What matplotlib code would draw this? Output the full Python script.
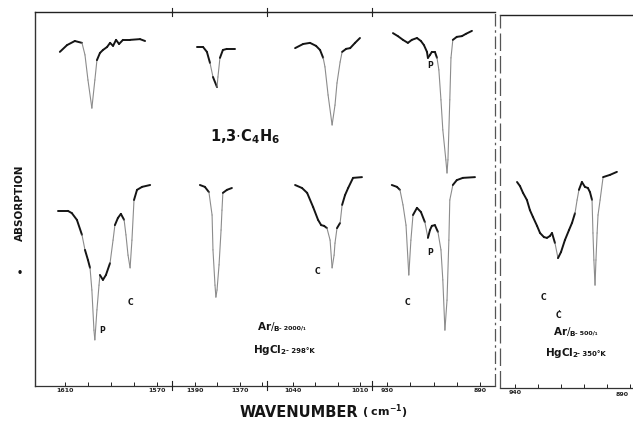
import numpy as np
import matplotlib
matplotlib.use('Agg')
import matplotlib.pyplot as plt
from matplotlib.collections import LineCollection
from matplotlib.lines import Line2D

W, H = 633, 423

# ---- spectra: wavenumber (cm-1) and signal (arbitrary, 0 = baseline of the frame)
# 1600 region
s1_top_wn = [1612.2, 1609.1, 1605.7, 1602.6, 1601.3, 1600.0, 1598.3, 1597.0, 1596.1, 1594.8,
             1593.5, 1591.7, 1590.4, 1589.1, 1587.8, 1586.5, 1584.8, 1581.7, 1577.4, 1575.2]
s1_top_y = [89.1, 90.9, 92.0, 91.5, 88.3, 81.6, 74.1, 81.6, 86.9, 88.8,
            89.6, 90.4, 91.5, 90.7, 92.3, 91.2, 92.3, 92.3, 92.5, 92.0]
s1_bot_wn = [1613.0, 1608.7, 1607.0, 1604.8, 1602.6, 1601.3, 1600.0, 1599.1, 1598.3, 1597.4,
             1597.0, 1596.1, 1595.2, 1594.8, 1593.5, 1592.2, 1590.4, 1589.1, 1588.3, 1587.0,
             1585.7, 1584.3, 1583.5, 1582.6, 1581.7, 1580.9, 1580.0, 1578.7, 1576.5, 1573.0]
s1_bot_y = [46.7, 46.7, 46.1, 44.3, 40.3, 36.3, 33.6, 31.5, 25.6, 14.9,
            12.3, 20.3, 26.9, 29.6, 28.3, 29.6, 32.8, 38.9, 42.9, 44.8,
            45.9, 44.3, 40.3, 34.9, 31.5, 38.9, 49.6, 52.3, 53.1, 53.6]

# 1380 region
s2_top_wn = [1389.1, 1386.4, 1384.7, 1383.3, 1382.0, 1380.2, 1379.8, 1378.9, 1377.6, 1375.8, 1372.2]
s2_top_y = [90.4, 90.4, 89.1, 86.1, 82.4, 79.7, 82.4, 87.5, 89.6, 89.9, 89.9]
s2_bot_wn = [1387.8, 1385.6, 1383.8, 1382.4, 1382.0, 1381.1, 1380.7, 1380.2, 1379.3, 1378.4,
             1378.0, 1377.6, 1375.8, 1373.6]
s2_bot_y = [53.6, 53.1, 51.7, 45.6, 36.3, 26.9, 23.7, 25.6, 32.3, 41.6,
            46.9, 51.5, 52.3, 52.8]

# 1020 region
s3_top_wn = [1039.1, 1035.5, 1032.4, 1029.7, 1027.9, 1026.5, 1025.7, 1024.3, 1022.5, 1021.2,
             1020.3, 1018.9, 1018.0, 1016.2, 1014.4, 1012.2, 1010.0]
s3_top_y = [90.1, 91.2, 91.5, 90.7, 89.6, 87.5, 85.1, 77.6, 69.6, 74.9,
            80.8, 86.4, 89.1, 89.9, 90.1, 91.5, 92.8]
s3_bot_wn = [1039.1, 1036.0, 1033.7, 1031.0, 1028.8, 1027.4, 1026.1, 1024.8, 1023.4, 1022.5,
             1021.6, 1021.2, 1020.3, 1018.9, 1018.0, 1016.7, 1015.3, 1013.1, 1009.1]
s3_bot_y = [53.6, 52.8, 51.5, 47.7, 44.3, 42.9, 42.7, 42.1, 38.9, 31.5,
            34.9, 38.1, 42.1, 43.5, 48.3, 50.9, 52.8, 55.5, 55.7]

# 910 region
s4_top_wn = [927.4, 925.3, 923.1, 921.0, 919.3, 917.1, 915.4, 914.1, 912.8, 912.4,
             911.5, 910.7, 909.4, 908.5, 907.7, 906.8, 906.0, 904.7, 904.2, 903.8,
             903.0, 902.5, 901.7, 900.0, 897.8, 896.1, 893.5]
s4_top_y = [94.1, 93.3, 92.3, 91.5, 92.3, 92.8, 92.0, 90.9, 89.1, 87.5,
            88.3, 89.1, 89.1, 87.5, 84.3, 76.3, 68.3, 60.3, 56.8, 60.3,
            76.3, 87.5, 92.3, 93.1, 93.3, 93.9, 94.7]
s4_bot_wn = [927.9, 925.7, 924.4, 923.1, 921.8, 920.6, 919.7, 918.8, 917.1, 915.4,
             913.7, 912.4, 911.5, 910.7, 909.4, 908.1, 906.8, 906.0, 905.1, 904.2,
             903.4, 903.0, 901.7, 900.0, 897.4, 892.2]
s4_bot_y = [53.6, 53.1, 52.3, 48.3, 42.9, 29.6, 38.9, 45.6, 47.5, 46.4,
            43.7, 39.5, 41.6, 42.7, 42.9, 41.1, 36.3, 28.3, 14.9, 22.9,
            38.9, 49.6, 53.6, 54.9, 55.5, 55.7]

# right panel, Ar/B = 500/1
r_wn = [939.1, 937.8, 936.5, 934.8, 933.5, 932.2, 930.4, 929.1, 927.4, 926.1,
        924.8, 923.9, 922.6, 921.3, 920.0, 918.3, 916.5, 915.2, 913.9, 913.0,
        912.2, 910.9, 909.6, 908.3, 907.4, 906.5, 906.1, 905.7, 905.2, 904.8,
        904.3, 903.9, 903.0, 901.7, 898.7, 895.7]
r_y = [54.4, 53.3, 51.5, 49.6, 46.9, 45.1, 42.7, 40.8, 39.7, 39.5,
       40.0, 40.8, 38.1, 34.1, 35.7, 38.9, 41.6, 43.5, 46.1, 49.6,
       52.3, 54.4, 53.1, 52.8, 51.7, 49.6, 40.8, 33.6, 26.9, 33.6,
       40.8, 45.6, 49.6, 55.7, 56.3, 57.1]

# axis limits / ticks for each wavenumber window
seg_xlim = [(1623.0, 1563.5), (1400.2, 1358.0), (1051.7, 1004.6), (936.4, 883.6), (946.5, 888.7)]
seg_ticks = [[1610, 1600, 1590, 1580, 1570], [1390, 1380, 1370, 1360],
             [1040, 1030, 1020, 1010], [930, 920, 910, 900, 890],
             [940, 930, 920, 910, 900, 890]]
seg_labels = [['1610', '', '', '', '1570'], ['1390', '', '1370', ''],
              ['1040', '', '', '1010'], ['930', '', '', '', '890'],
              ['940', '', '', '', '', '']]

# band labels (wavenumber, y, text) per window
band_marks = [
    [(1593.9, 14.9, 'P'), (1581.7, 22.4, 'C')],
    [],
    [(1029.1, 30.4, 'C')],
    [(911.5, 85.6, 'P'), (921.0, 22.4, 'C'), (911.5, 35.5, 'P')],
    [(927.8, 23.7, 'C'), (921.3, 18.9, 'Ċ')],
]

ink = '#151515'


def trace(ax, x, y):
    # faint where the pen moved fast, as on the scanned chart
    pts = ax.transData.transform(np.column_stack([x, y]))
    d = np.diff(pts, axis=0)
    steep = np.abs(d[:, 1]) > 2.5 * np.abs(d[:, 0]) + 4
    cols = np.where(steep, '#8c8c8c', ink)
    lws = np.where(steep, 0.8, 1.4)
    dsegs = np.stack([np.column_stack([x[:-1], y[:-1]]), np.column_stack([x[1:], y[1:]])], axis=1)
    lc = LineCollection(dsegs, colors=cols, linewidths=lws, capstyle='round')
    ax.add_collection(lc)


plt.rcParams['font.family'] = ['DejaVu Sans']
fig = plt.figure(figsize=(W / 100, H / 100), dpi=100)

px_left = [35, 172, 267, 372, 500]
px_right = [172, 267, 372, 495, 633]
top_px = [12, 12, 12, 12, 15]
bot_px = [386, 386, 386, 386, 388]

spectra = [
    [(s1_top_wn, s1_top_y), (s1_bot_wn, s1_bot_y)],
    [(s2_top_wn, s2_top_y), (s2_bot_wn, s2_bot_y)],
    [(s3_top_wn, s3_top_y), (s3_bot_wn, s3_bot_y)],
    [(s4_top_wn, s4_top_y), (s4_bot_wn, s4_bot_y)],
    [(r_wn, r_y)],
]

for i in range(5):
    l, r = px_left[i], px_right[i]
    t, b = top_px[i], bot_px[i]
    ax = fig.add_axes([l / W, 1 - b / H, (r - l) / W, (b - t) / H])
    ax.set_xlim(*seg_xlim[i])
    ax.set_ylim((386 - b) / 3.75, (386 - t) / 3.75)
    for side in ['left', 'right']:
        ax.spines[side].set_visible(False)
    ax.spines['top'].set_linewidth(1.0)
    ax.spines['bottom'].set_linewidth(0.9)
    ax.spines['top'].set_color('#222222')
    ax.spines['bottom'].set_color('#333333')
    if i == 0:
        ax.spines['left'].set_visible(True)
        ax.spines['left'].set_linewidth(1.0)
        ax.spines['left'].set_color('#333333')
    ax.set_yticks([])
    ax.set_xticks(seg_ticks[i], labels=seg_labels[i])
    ax.tick_params(axis='x', direction='in', length=3, width=0.7, pad=1.5,
                   labelsize=4.5, colors='#222222')
    for lab in ax.get_xticklabels():
        lab.set_fontweight('bold')
    if i == 4:
        # last label sits at the cut edge of the scan: keep it inside the frame
        ax.text(seg_ticks[i][-1] + 0.4, -0.012, str(seg_ticks[i][-1]), fontsize=4.5,
                fontweight='bold', ha='right', va='top', color='#222222',
                transform=ax.get_xaxis_transform())
    ax.patch.set_visible(False)
    for x, y in spectra[i]:
        trace(ax, np.array(x), np.array(y))
    for x, y, s in band_marks[i]:
        ax.text(x, y, s, fontsize=5.5, fontweight='bold', ha='center', va='center', color=ink)

# scale-break marks and panel dividers
for xb in [172, 267, 372]:
    fig.add_artist(Line2D([xb / W, xb / W], [1 - 390 / H, 1 - 381 / H], color='#222222', lw=0.8))
    fig.add_artist(Line2D([xb / W, xb / W], [1 - 16 / H, 1 - 8 / H], color='#222222', lw=0.8))
fig.add_artist(Line2D([495 / W, 495 / W], [1 - 386 / H, 1 - 12 / H], color='#555555', lw=0.9,
                      ls=(0, (10, 3, 2, 3))))
fig.add_artist(Line2D([500 / W, 500 / W], [1 - 388 / H, 1 - 15 / H], color='#555555', lw=0.9,
                      ls=(0, (14, 4))))

# annotations
fig.text(245 / W, 1 - 137 / H, r'1,3$\cdot$C$_{\mathbf{4}}$H$_{\mathbf{6}}$', fontsize=10.5,
         fontweight='bold', ha='center', va='center', color=ink)
fig.text(257 / W, 1 - 327 / H, r'Ar$/_{\mathbf{B}}$', fontsize=7.5, fontweight='bold',
         ha='left', va='center', color=ink)
fig.text(279 / W, 1 - 328 / H, '- 2000/₁', fontsize=4.5, fontweight='bold',
         ha='left', va='center', color=ink)
fig.text(253 / W, 1 - 350 / H, r'HgCl$_{\mathbf{2}}$', fontsize=7.5, fontweight='bold',
         ha='left', va='center', color=ink)
fig.text(286 / W, 1 - 351 / H, '- 298°K', fontsize=5, fontweight='bold',
         ha='left', va='center', color=ink)
fig.text(553 / W, 1 - 332 / H, r'Ar$/_{\mathbf{B}}$', fontsize=7.5, fontweight='bold',
         ha='left', va='center', color=ink)
fig.text(575 / W, 1 - 333 / H, '- 500/₁', fontsize=4.5, fontweight='bold',
         ha='left', va='center', color=ink)
fig.text(545 / W, 1 - 353 / H, r'HgCl$_{\mathbf{2}}$', fontsize=7.5, fontweight='bold',
         ha='left', va='center', color=ink)
fig.text(577 / W, 1 - 354 / H, '- 350°K', fontsize=5, fontweight='bold',
         ha='left', va='center', color=ink)

fig.text(20 / W, 1 - 203 / H, 'ABSORPTION', rotation=90, fontsize=7.5, fontweight='bold',
         ha='center', va='center', color=ink)
fig.text(20 / W, 1 - 273 / H, '•', fontsize=7, fontweight='bold', ha='center', va='center', color=ink)
fig.text(240 / W, 1 - 412 / H, 'WAVENUMBER', fontsize=10.5, fontweight='bold',
         ha='left', va='center', color=ink)
fig.text(362 / W, 1 - 412 / H, r'( cm$^{\mathbf{-1}}$)', fontsize=8, fontweight='bold',
         ha='left', va='center', color=ink)

fig.savefig('out.png', dpi=100)
